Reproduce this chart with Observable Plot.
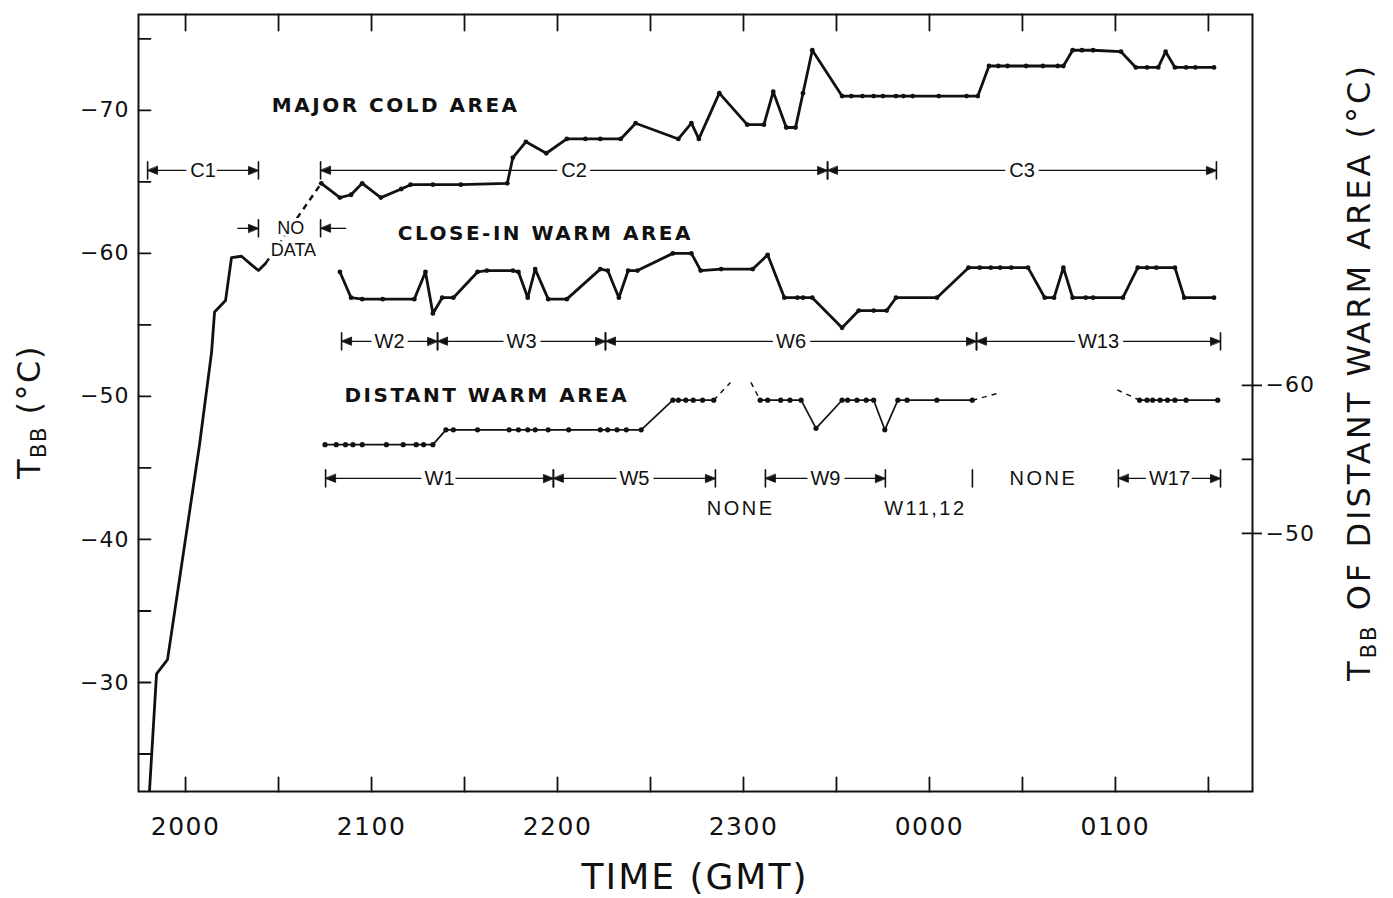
<!DOCTYPE html>
<html>
<head>
<meta charset="utf-8">
<script src="https://cdn.jsdelivr.net/npm/d3@7"></script>
<script src="https://cdn.jsdelivr.net/npm/@observablehq/plot@0.6"></script>
<style>
  html, body { margin: 0; padding: 0; background: #fff; }
  #chart svg { display: block; }
</style>
</head>
<body>
<div id="chart"></div>
<script>
// ---------------- DATA (time in decimal hours GMT; 24 = 0000, 25 = 0100) ----------------
const timeTicks = [20, 21, 22, 23, 24, 25];
const timeTickLabels = ["2000", "2100", "2200", "2300", "0000", "0100"];
const tempTicks = [-70, -60, -50, -40, -30];          // left axis, T_BB (°C)
const distantTicks = [-60, -50];                      // right axis, T_BB of distant warm area (°C)
const distantMinorTicks = [-60, -55, -50];

// Major cold area, before the data gap
const coldEarly = [[19.806,-22.4],[19.844,-30.6],[19.903,-31.6],[20.075,-46.6],[20.14,-53.1],[20.156,-55.9],
  [20.215,-56.7],[20.247,-59.7],[20.301,-59.8],[20.355,-59.2],[20.392,-58.8],[20.43,-59.3]];
// Major cold area, after the data gap
const coldLate = [[20.73,-64.9],[20.83,-63.9],[20.89,-64.1],[20.95,-64.9],[21.05,-63.9],[21.16,-64.5],[21.21,-64.8],
  [21.33,-64.8],[21.48,-64.8],[21.73,-64.9],[21.76,-66.7],[21.83,-67.8],[21.94,-67.0],[22.05,-68.0],[22.15,-68.0],
  [22.23,-68.0],[22.34,-68.0],[22.42,-69.1],[22.65,-68.0],[22.72,-69.1],[22.76,-68.0],[22.87,-71.2],[23.02,-69.0],
  [23.11,-69.0],[23.16,-71.3],[23.23,-68.8],[23.28,-68.8],[23.32,-71.2],[23.37,-74.2],[23.53,-71.0],[23.58,-71.0],
  [23.64,-71.0],[23.70,-71.0],[23.75,-71.0],[23.82,-71.0],[23.86,-71.0],[23.91,-71.0],[24.05,-71.0],[24.20,-71.0],
  [24.26,-71.0],[24.32,-73.1],[24.37,-73.1],[24.42,-73.1],[24.52,-73.1],[24.61,-73.1],[24.69,-73.1],[24.72,-73.1],
  [24.77,-74.2],[24.82,-74.2],[24.88,-74.2],[25.03,-74.1],[25.11,-73.0],[25.17,-73.0],[25.23,-73.0],[25.27,-74.1],
  [25.32,-73.0],[25.38,-73.0],[25.43,-73.0],[25.53,-73.0]];
// Close-in warm area
const closeWarm = [[20.83,-58.7],[20.89,-56.9],[20.95,-56.8],[21.06,-56.8],[21.23,-56.8],[21.29,-58.7],[21.33,-55.8],
  [21.38,-56.9],[21.44,-56.9],[21.57,-58.7],[21.62,-58.8],[21.76,-58.8],[21.79,-58.7],[21.84,-56.9],[21.88,-58.9],
  [21.95,-56.8],[22.05,-56.8],[22.23,-58.9],[22.27,-58.8],[22.33,-56.9],[22.38,-58.8],[22.43,-58.8],[22.62,-60.0],
  [22.72,-60.0],[22.77,-58.8],[22.88,-58.9],[23.05,-58.9],[23.13,-59.9],[23.22,-56.9],[23.29,-56.9],[23.32,-56.9],
  [23.37,-56.9],[23.53,-54.8],[23.62,-56.0],[23.70,-56.0],[23.77,-56.0],[23.82,-56.9],[24.04,-56.9],[24.21,-59.0],
  [24.27,-59.0],[24.33,-59.0],[24.38,-59.0],[24.44,-59.0],[24.53,-59.0],[24.62,-56.9],[24.67,-56.9],[24.72,-59.0],
  [24.77,-56.9],[24.84,-56.9],[24.88,-56.9],[25.04,-56.9],[25.12,-59.0],[25.17,-59.0],[25.22,-59.0],[25.32,-59.0],
  [25.37,-56.9],[25.53,-56.9]];
// Distant warm area (right-axis values), three observed stretches
const distant1 = [[20.75,-56],[20.81,-56],[20.86,-56],[20.90,-56],[20.95,-56],[21.08,-56],[21.17,-56],[21.24,-56],
  [21.28,-56],[21.33,-56],[21.40,-57],[21.44,-57],[21.57,-57],[21.74,-57],[21.79,-57],[21.84,-57],[21.88,-57],
  [21.95,-57],[22.06,-57],[22.23,-57],[22.27,-57],[22.32,-57],[22.37,-57],[22.45,-57],[22.62,-59],[22.65,-59],
  [22.69,-59],[22.73,-59],[22.78,-59],[22.84,-59]];
const distant2 = [[23.09,-59],[23.13,-59],[23.20,-59],[23.25,-59],[23.31,-59],[23.39,-57.1],[23.53,-59],[23.56,-59],
  [23.61,-59],[23.66,-59],[23.70,-59],[23.76,-57],[23.83,-59],[23.88,-59],[24.04,-59],[24.23,-59]];
const distant3 = [[25.13,-59],[25.17,-59],[25.20,-59],[25.24,-59],[25.28,-59],[25.32,-59],[25.38,-59],[25.55,-59]];
const distantTrail = [[22.93,-60.2],[24.38,-59.5]];   // dashed fade-out after stretches 1 and 2
const distantLead  = [[23.04,-60.2],[25.01,-59.7]];   // dashed fade-in before stretches 2 and 3

// Analysis periods
const coldPeriodNames = ["C1", "C2", "C3"];
const coldPeriodStart = [19.796, 20.726, 23.452];
const coldPeriodEnd   = [20.392, 23.452, 25.543];
const closePeriodNames = ["W2", "W3", "W6", "W13"];
const closePeriodStart = [20.839, 21.355, 22.258, 24.253];
const closePeriodEnd   = [21.355, 22.258, 24.253, 25.565];
const distantPeriodNames = ["W1", "W5", "W9", "W17"];
const distantPeriodStart = [20.753, 21.978, 23.118, 25.016];
const distantPeriodEnd   = [21.978, 22.849, 23.763, 25.565];
const distantExtraBars = [24.231];
const notesBelow = ["NONE", "W11,12"];
const notesBelowTimes = [22.985, 23.978];
const notesOnRow = ["NONE"];
const notesOnRowTimes = [24.613];

// ---------------- LAYOUT ----------------
const W = 1393, H = 898;
const rightAxis = {leftAtMinus60: -50.77, slope: 1.035};   // mapping right-axis °C -> left-axis °C
const toLeft = r => rightAxis.leftAtMinus60 + (r + 60) * rightAxis.slope;
const toRight = l => (l - rightAxis.leftAtMinus60) / rightAxis.slope - 60;
const rows = {cold: -65.8, noData: -61.75, close: -53.85, distant: -44.27};
const ink = "#111";

const pt = ([t, v]) => ({t, v});
const coldEarlyPts = coldEarly.map(pt);
const coldLatePts = coldLate.map(pt);
const closePts = closeWarm.map(pt);
const distSegs = [distant1, distant2, distant3].map(s => s.map(([t, r]) => ({t, v: toLeft(r)})));
const distDash = [];
distantTrail.forEach(([t, r], i) => { const last = distSegs[i][distSegs[i].length - 1]; distDash.push({x1: last.t, y1: last.v, x2: t, y2: toLeft(r)}); });
distantLead.forEach(([t, r], i) => { const first = distSegs[i + 1][0]; distDash.push({x1: t, y1: toLeft(r), x2: first.t, y2: first.v}); });
const noDataLink = [{x1: coldEarlyPts.at(-1).t, y1: coldEarlyPts.at(-1).v, x2: coldLatePts[0].t, y2: coldLatePts[0].v}];

const periods = [];
coldPeriodNames.forEach((n, i) => periods.push({n, s: coldPeriodStart[i], e: coldPeriodEnd[i], y: rows.cold}));
closePeriodNames.forEach((n, i) => periods.push({n, s: closePeriodStart[i], e: closePeriodEnd[i], y: rows.close}));
distantPeriodNames.forEach((n, i) => periods.push({n, s: distantPeriodStart[i], e: distantPeriodEnd[i], y: rows.distant}));
const bars = [];
const heads = [];
periods.forEach(p => {
  bars.push({t: p.s, y: p.y}, {t: p.e, y: p.y});
  heads.push({t: p.s, y: p.y, rot: -90}, {t: p.e, y: p.y, rot: 90});
});
distantExtraBars.forEach(t => bars.push({t, y: rows.distant}));
// "NO DATA" markers: outside arrows pointing in to the gap
const gapA = coldPeriodEnd[0], gapB = coldPeriodStart[1];
bars.push({t: gapA, y: rows.noData}, {t: gapB, y: rows.noData});
heads.push({t: gapA, y: rows.noData, rot: 90}, {t: gapB, y: rows.noData, rot: -90});
const gapStubs = [{x1: gapA - 0.11, x2: gapA, y: rows.noData}, {x1: gapB, x2: gapB + 0.14, y: rows.noData}];
const belowNotes = notesBelow.map((n, i) => ({n, t: notesBelowTimes[i]}));
const rowNotes = notesOnRow.map((n, i) => ({n, t: notesOnRowTimes[i]}));

const lineShape = {draw(ctx, l) { ctx.moveTo(0, 0); ctx.lineTo(0, -l); }};
const headShape = {draw(ctx, l, r) { ctx.moveTo(0, -l); ctx.lineTo(-r, 0); ctx.lineTo(r, 0); ctx.closePath(); }};
const halfHours = d3.range(20, 25.51, 0.5);
const fiveDeg = d3.range(-75, -24, 5);

const seriesLabels = [
  {n: "MAJOR COLD AREA", t: 21.13, v: -70.35},
  {n: "CLOSE-IN WARM AREA", t: 21.935, v: -61.4},
  {n: "DISTANT WARM AREA", t: 21.62, v: -50.07}
];
const gapLabels = [{n: "NO", t: 20.565, v: -61.75}, {n: "DATA", t: 20.58, v: -60.2}];

const chart = Plot.plot({
  width: W, height: H,
  marginTop: 14, marginBottom: 107, marginLeft: 138, marginRight: 141,
  x: {domain: [19.747, 25.737]},
  y: {domain: [-22.38, -76.7]},
  style: {fontFamily: "DejaVu Sans, sans-serif", background: "#fff", color: ink},
  marks: [
    Plot.frame({stroke: ink, strokeWidth: 2}),
    // inward tick marks
    Plot.vector(halfHours, {x: d => d, frameAnchor: "bottom", length: 14, rotate: 0, anchor: "start", shape: lineShape, stroke: ink, strokeWidth: 1.8}),
    Plot.vector(halfHours, {x: d => d, frameAnchor: "top", length: 16, rotate: 180, anchor: "start", shape: lineShape, stroke: ink, strokeWidth: 1.8}),
    Plot.vector(fiveDeg, {y: d => d, frameAnchor: "left", length: 12, rotate: 90, anchor: "start", shape: lineShape, stroke: ink, strokeWidth: 1.8}),
    Plot.vector(distantMinorTicks, {y: d => toLeft(d), frameAnchor: "right", length: 10, rotate: -90, anchor: "start", shape: lineShape, stroke: ink, strokeWidth: 1.8}),
    Plot.axisX({anchor: "bottom", ticks: timeTicks, tickSize: 0, tickPadding: 26, fontSize: 25, label: null,
      tickFormat: d => timeTickLabels[timeTicks.indexOf(d)]}),
    Plot.axisY({anchor: "left", ticks: tempTicks, tickSize: 0, tickPadding: 9, fontSize: 22, label: null,
      tickFormat: d => "\u2212" + Math.abs(d)}),
    Plot.axisY({anchor: "right", ticks: distantTicks.map(toLeft), tickSize: 9, tickPadding: 4, fontSize: 22, label: null,
      tickFormat: d => "\u2212" + Math.abs(Math.round(toRight(d))), strokeWidth: 1.8}),
    // period annotations
    Plot.ruleY(periods, {y: "y", x1: "s", x2: "e", stroke: ink, strokeWidth: 1.3}),
    Plot.ruleY(gapStubs, {y: "y", x1: "x1", x2: "x2", stroke: ink, strokeWidth: 1.3}),
    Plot.vector(bars, {x: "t", y: "y", length: 17, rotate: 0, anchor: "middle", shape: lineShape, stroke: ink, strokeWidth: 1.6}),
    Plot.vector(heads, {x: "t", y: "y", rotate: "rot", length: 10, r: 4, anchor: "end", shape: headShape, fill: ink, stroke: ink, strokeWidth: 0.8}),
    Plot.text(periods, {x: d => (d.s + d.e) / 2, y: "y", text: "n", fontSize: 20, fontFamily: "Liberation Sans, sans-serif",
      fill: ink, stroke: "#fff", strokeWidth: 10}),
    Plot.text(belowNotes, {x: "t", y: () => rows.distant, dy: 30, text: "n", fontSize: 20, fontFamily: "Liberation Sans, sans-serif", fill: ink}),
    Plot.text(rowNotes, {x: "t", y: () => rows.distant, text: "n", fontSize: 20, fontFamily: "Liberation Sans, sans-serif", fill: ink}),
    // data
    Plot.line(coldEarlyPts, {x: "t", y: "v", stroke: ink, strokeWidth: 2.8, clip: true}),
    Plot.link(noDataLink, {x1: "x1", y1: "y1", x2: "x2", y2: "y2", stroke: ink, strokeWidth: 2.4, strokeDasharray: "6,5"}),
    Plot.line(coldLatePts, {x: "t", y: "v", stroke: ink, strokeWidth: 2.8}),
    Plot.dot(coldLatePts, {x: "t", y: "v", r: 2.4, fill: ink}),
    Plot.line(closePts, {x: "t", y: "v", stroke: ink, strokeWidth: 2.8}),
    Plot.dot(closePts, {x: "t", y: "v", r: 2.4, fill: ink}),
    ...distSegs.map(seg => Plot.line(seg, {x: "t", y: "v", stroke: ink, strokeWidth: 1.7})),
    ...distSegs.map(seg => Plot.dot(seg, {x: "t", y: "v", r: 2.6, fill: ink})),
    Plot.link(distDash, {x1: "x1", y1: "y1", x2: "x2", y2: "y2", stroke: ink, strokeWidth: 1.5, strokeDasharray: "5,5"}),
    // labels
    Plot.text(seriesLabels, {x: "t", y: "v", text: "n", fontSize: 20, fontWeight: "bold", fill: ink}),
    Plot.text(gapLabels, {x: "t", y: "v", text: "n", fontSize: 18, fontFamily: "Liberation Sans, sans-serif", fill: ink,
      stroke: "#fff", strokeWidth: 6})
  ]
});
document.getElementById("chart").appendChild(chart);

// spacing tweaks and axis titles
const svg = d3.select(chart);
svg.selectAll('g[aria-label="x-axis tick label"] text').style("letter-spacing", "1.5px");
svg.selectAll('g[aria-label="y-axis tick label"] text').style("letter-spacing", "1px");
const seriesNames = seriesLabels.map(d => d.n);
svg.selectAll("text").filter(function() { return seriesNames.includes(this.textContent); }).style("letter-spacing", "2.5px");
svg.selectAll("text").filter(function() { return notesBelow.includes(this.textContent) || notesOnRow.includes(this.textContent); })
  .style("letter-spacing", "2.5px");

function subTitle(x, y, rotate, size, spacing, parts) {
  const t = svg.append("text")
    .attr("transform", `translate(${x},${y})` + (rotate ? ` rotate(${rotate})` : ""))
    .attr("text-anchor", "middle")
    .attr("fill", ink)
    .style("font-family", "DejaVu Sans, sans-serif")
    .style("font-size", size + "px")
    .style("letter-spacing", spacing + "px");
  parts.forEach(([s, sub]) => {
    const ts = t.append("tspan").text(s);
    if (sub === 1) ts.attr("dy", "0.3em").style("font-size", Math.round(size * 0.66) + "px");
    if (sub === -1) ts.attr("dy", "-0.2em");
  });
}
subTitle(40, 412, -90, 32, 1.5, [["T"], ["BB", 1], [" (°C)", -1]]);
subTitle(1370, 372, -90, 32, 3, [["T"], ["BB", 1], [" OF DISTANT WARM AREA (°C)", -1]]);
subTitle(695, 889, 0, 36, 2, [["TIME (GMT)"]]);
</script>
</body>
</html>
